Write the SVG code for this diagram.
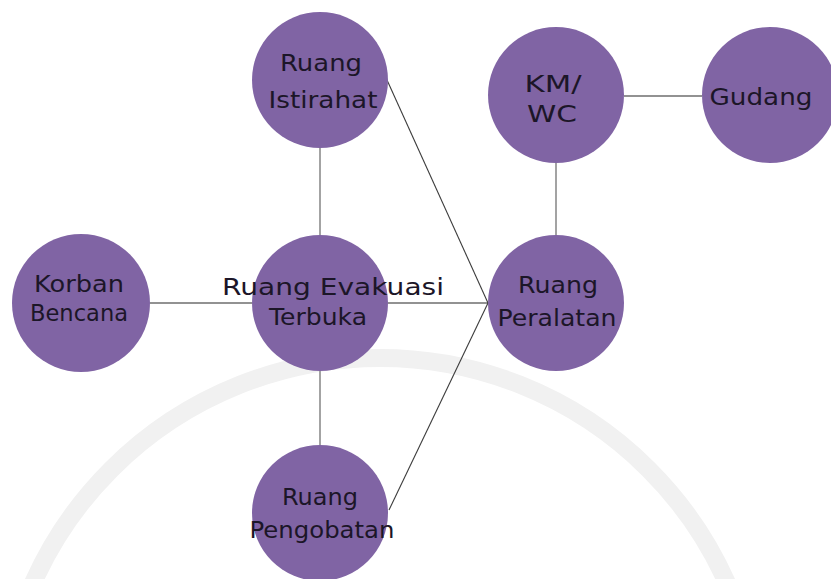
<svg xmlns="http://www.w3.org/2000/svg" width="831" height="579" viewBox="0 0 831 579">
<style>
.node circle{fill:#8064a4;}
.node text{font-family:"DejaVu Sans","Liberation Sans",sans-serif;font-size:23px;fill:#1c1628;text-anchor:middle;}
.c-light{stroke:#a3a3a3;stroke-width:2;fill:none;}
.c-mid{stroke:#6e6e6e;stroke-width:1.5;fill:none;}
.c-dark{stroke:#3c3c3c;stroke-width:1.1;fill:none;}
</style>
<rect width="831" height="579" fill="#ffffff"/>
<circle cx="380" cy="738" r="380" fill="none" stroke="#f1f1f1" stroke-width="18"/>
<g id="connectors">
<line class="c-light" x1="320" y1="148" x2="320" y2="235"/>
<line class="c-light" x1="320" y1="371" x2="320" y2="445"/>
<line class="c-light" x1="556" y1="163" x2="556" y2="235"/>
<line class="c-mid" x1="624" y1="96" x2="702" y2="96"/>
<line class="c-mid" x1="150" y1="303" x2="252" y2="303"/>
<line class="c-mid" x1="388" y1="303" x2="488" y2="303"/>
<line class="c-dark" x1="387" y1="80" x2="488" y2="303"/>
<line class="c-dark" x1="488" y1="303" x2="389" y2="510"/>
</g>
<g id="node-istirahat" class="node">
<circle cx="320" cy="80" r="68"/>
<text x="321" y="71" textLength="82" lengthAdjust="spacingAndGlyphs">Ruang</text>
<text x="323" y="108" textLength="109" lengthAdjust="spacingAndGlyphs">Istirahat</text>
</g>
<g id="node-kmwc" class="node">
<circle cx="556" cy="95" r="68"/>
<text x="553" y="92" textLength="57" lengthAdjust="spacingAndGlyphs">KM/</text>
<text x="552" y="122" textLength="50" lengthAdjust="spacingAndGlyphs">WC</text>
</g>
<g id="node-gudang" class="node">
<circle cx="770" cy="95" r="68"/>
<text x="761" y="105" textLength="103" lengthAdjust="spacingAndGlyphs">Gudang</text>
</g>
<g id="node-korban" class="node">
<circle cx="81" cy="303" r="69"/>
<text x="79" y="292" textLength="90" lengthAdjust="spacingAndGlyphs">Korban</text>
<text x="79" y="321" textLength="98" lengthAdjust="spacingAndGlyphs">Bencana</text>
</g>
<g id="node-evakuasi" class="node">
<circle cx="320" cy="303" r="68"/>
<text x="333" y="295" textLength="222" lengthAdjust="spacingAndGlyphs">Ruang Evakuasi</text>
<text x="318" y="325" textLength="98" lengthAdjust="spacingAndGlyphs">Terbuka</text>
</g>
<g id="node-peralatan" class="node">
<circle cx="556" cy="303" r="68"/>
<text x="558" y="293" textLength="80" lengthAdjust="spacingAndGlyphs">Ruang</text>
<text x="557" y="326" textLength="119" lengthAdjust="spacingAndGlyphs">Peralatan</text>
</g>
<g id="node-pengobatan" class="node">
<circle cx="320" cy="513" r="68"/>
<text x="320" y="505" textLength="76" lengthAdjust="spacingAndGlyphs">Ruang</text>
<text x="322" y="538" textLength="145" lengthAdjust="spacingAndGlyphs">Pengobatan</text>
</g>
</svg>
